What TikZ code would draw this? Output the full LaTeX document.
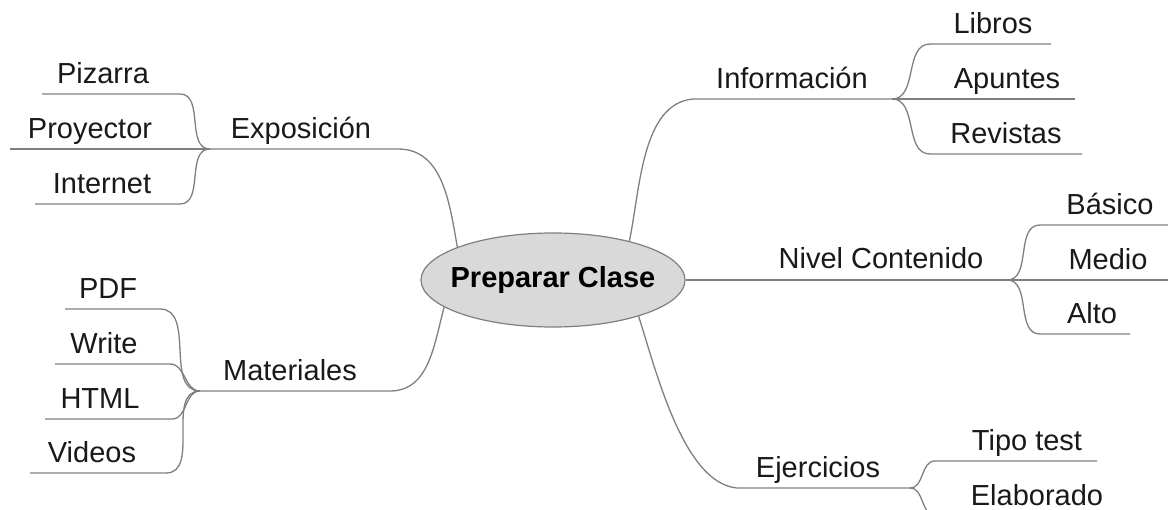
\documentclass[tikz,border=0pt]{standalone}
\usepackage{fontspec}
\setmainfont{Liberation Sans}
\usetikzlibrary{shapes,positioning,calc}
\definecolor{linegray}{HTML}{7F7F7F}
\definecolor{rootfill}{HTML}{D9D9D9}

\begin{document}
\begin{tikzpicture}[x=1pt,y=-1pt,
    branch/.style={draw=linegray, line width=1.3pt},
    topic/.style={font=\fontsize{29}{34}\selectfont, text=black!90, anchor=base, inner sep=0pt},
    rootnode/.style={ellipse, draw=linegray, line width=1.2pt, fill=rootfill,
        minimum width=264pt, minimum height=94pt, inner xsep=-11pt, inner ysep=0pt,
        font=\fontsize{29}{34}\selectfont\bfseries}]
    \useasboundingbox (0,0) rectangle (1168,510);
    \clip (0,0) rectangle (1168,510);

    % Centre
    \node[rootnode] (root) at (553,280) {Preparar Clase};

    % Exposicion
    \coordinate (jexp) at (210,149);
    \coordinate (expe) at (398,149);
    \node[topic] (expo) at (301,139) {Exposición};
    \draw[branch] (root.161) to[out=100,in=0] (expe) -- (jexp);
    \foreach \n/\t/\y/\xc/\xa/\xb in {piz/Pizarra/94/103/180/42, pro/Proyector/149/90/210/10, int/Internet/204/102/180/35}{
        \coordinate (\n a) at (\xa,\y);
        \coordinate (\n b) at (\xb,\y);
        \node[topic] (\n) at (\xc,\y-10) {\t};
        \draw[branch] (jexp) to[out=180,in=0] (\n a) -- (\n b);
    }

    % Materiales
    \coordinate (jmat) at (200,391);
    \coordinate (mate) at (390,391);
    \node[topic] (mat) at (290,381) {Materiales};
    \draw[branch] (root.194) to[out=-105,in=0] (mate) -- (jmat);
    \foreach \n/\t/\y/\xc/\xa/\xb in {pdf/PDF/309/108/160/65, wri/Write/364/104/170/55, htm/HTML/419/100/172/45, vid/Videos/473/92/166/30}{
        \coordinate (\n a) at (\xa,\y);
        \coordinate (\n b) at (\xb,\y);
        \node[topic] (\n) at (\xc,\y-10) {\t};
        \draw[branch] (jmat) to[out=180,in=0] (\n a) -- (\n b);
    }

    % Informacion
    \coordinate (jinf) at (892,99);
    \coordinate (infw) at (693,99);
    \node[topic] (inf) at (792,89) {Información};
    \draw[branch] (root.27) to[out=78,in=185,looseness=0.85] (infw) -- (jinf);
    \foreach \n/\t/\y/\xc/\xa/\xb in {lib/Libros/44/993/930/1051, apu/Apuntes/99/1007/892/1075, rev/Revistas/154/1006/930/1082}{
        \coordinate (\n a) at (\xa,\y);
        \coordinate (\n b) at (\xb,\y);
        \node[topic] (\n) at (\xc,\y-10) {\t};
        \draw[branch] (jinf) to[out=0,in=180] (\n a) -- (\n b);
    }

    % Nivel Contenido
    \coordinate (jniv) at (1007,280);
    \node[topic] (niv) at (881,269) {Nivel Contenido};
    \draw[branch] (root.east) -- (jniv);
    \foreach \n/\t/\y/\xc/\xa/\xb in {bas/Básico/225/1110/1040/1168, med/Medio/280/1108/1007/1168, alt/Alto/334/1092/1040/1130}{
        \coordinate (\n a) at (\xa,\y);
        \coordinate (\n b) at (\xb,\y);
        \node[topic] (\n) at (\xc,\y-10) {\t};
        \draw[branch] (jniv) to[out=0,in=180] (\n a) -- (\n b);
    }

    % Ejercicios
    \coordinate (jeje) at (910,488);
    \coordinate (ejew) at (737,488);
    \node[topic] (eje) at (818,478) {Ejercicios};
    \draw[branch] (root.337) to[out=-72,in=175,looseness=0.7] (ejew) -- (jeje);
    \foreach \n/\t/\y/\xc/\xa/\xb in {tip/Tipo test/461/1027/935/1097, ela/Elaborado/515/1037/935/1100}{
        \coordinate (\n a) at (\xa,\y);
        \coordinate (\n b) at (\xb,\y);
        \node[topic] (\n) at (\xc,\y-10) {\t};
        \draw[branch] (jeje) to[out=0,in=180] (\n a) -- (\n b);
    }
\end{tikzpicture}
\end{document}
